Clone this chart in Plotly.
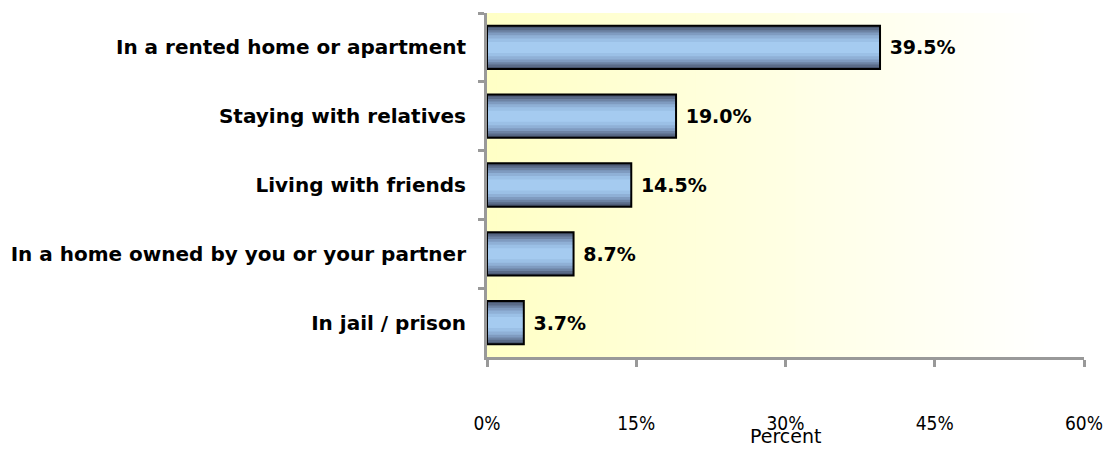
import plotly.graph_objects as go

categories = ["In a rented home or apartment", "Staying with relatives", "Living with friends",
              "In a home owned by you or your partner", "In jail / prison"]
values = [39.5, 19.0, 14.5, 8.7, 3.7]
labels = ["39.5%", "19.0%", "14.5%", "8.7%", "3.7%"]
x_ticks = [0, 15, 30, 45, 60]
x_tick_labels = ["0%", "15%", "30%", "45%", "60%"]
x_title = "Percent"

fig = go.Figure()

# striped bar gradient (dark edges -> light centre)
layers = [(0.63, "#46536c"), (0.57, "#5a6b88"), (0.50, "#6d83a4"), (0.43, "#7f9bc0"),
          (0.35, "#8fb0d6"), (0.26, "#9bc0e6"), (0.16, "#a5cbf0")]
for w, c in layers:
    fig.add_trace(go.Bar(y=categories, x=values, orientation="h", width=w,
                         marker=dict(color=c, line=dict(width=0)),
                         hoverinfo="skip", showlegend=False))
# outline + value labels
fig.add_trace(go.Bar(y=categories, x=values, orientation="h", width=0.63,
                     marker=dict(color="rgba(0,0,0,0)", line=dict(color="black", width=2)),
                     text=labels, texttemplate=" %{text}", textposition="outside",
                     cliponaxis=False,
                     textfont=dict(family="DejaVu Sans", size=19, color="black", weight="bold"),
                     showlegend=False))

# plot-area background gradient
n = 60
shapes = []
for i in range(n):
    f0, f1 = i / n, (i + 1) / n
    t = min(1.0, f0 / 0.92)
    b = int(198 + (255 - 198) * t)
    shapes.append(dict(type="rect", xref="x domain", yref="y domain", x0=f0, x1=f1 + 0.002,
                       y0=0, y1=1, fillcolor=f"rgb(255,255,{b})", line=dict(width=0),
                       layer="below"))

fig.update_layout(
    width=1108, height=449,
    margin=dict(l=487, r=24, t=13, b=92, autoexpand=False),
    barmode="overlay",
    paper_bgcolor="white", plot_bgcolor="white",
    shapes=shapes,
    font=dict(family="DejaVu Sans", color="black"),
    xaxis=dict(range=[0, 60], tickvals=x_ticks, ticktext=x_tick_labels,
               showgrid=False, zeroline=False, automargin=False,
               showline=True, linecolor="#999999", linewidth=3,
               ticks="outside", ticklen=7, tickwidth=3, tickcolor="#999999",
               ticklabelstandoff=40,
               tickfont=dict(size=19, family="DejaVu Sans Condensed")),
    yaxis=dict(autorange="reversed", showgrid=False, automargin=False,
               showline=True, linecolor="#999999", linewidth=3,
               ticks="outside", ticklen=6, tickwidth=3, tickcolor="#999999",
               tickson="boundaries", ticklabelstandoff=14,
               tickfont=dict(size=20, family="DejaVu Sans", weight="bold")),
    annotations=[dict(text=x_title, xref="x", yref="paper", x=30, y=0, yshift=-79,
                      yanchor="middle", showarrow=False,
                      font=dict(size=19, family="DejaVu Sans", color="black"))],
)

fig.write_html("out.html", config={"displayModeBar": False},
               post_script="document.body.style.margin='0';")
